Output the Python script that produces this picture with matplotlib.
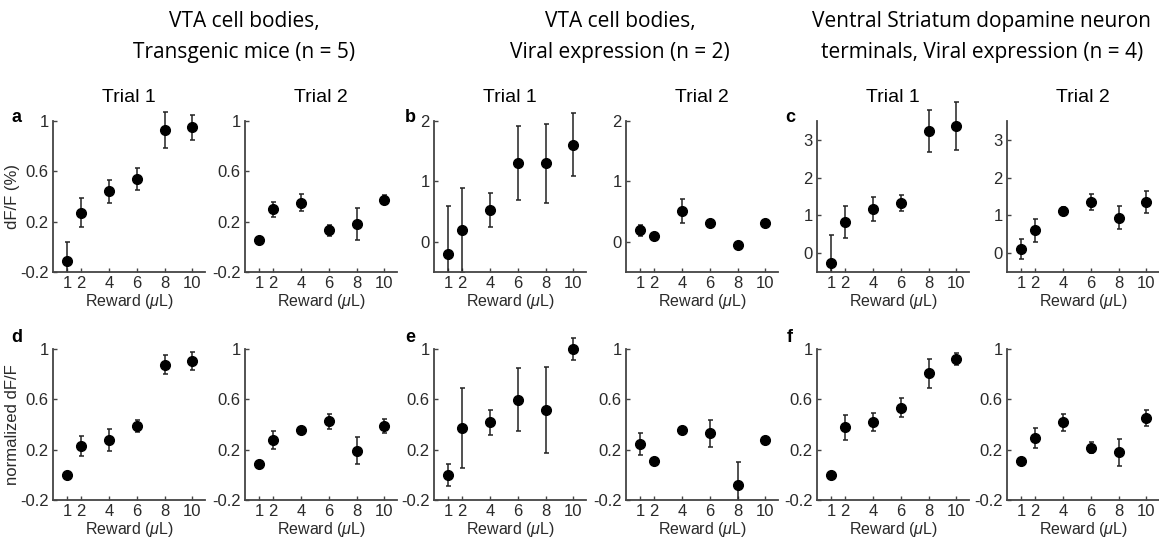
import matplotlib
matplotlib.use("Agg")
import matplotlib.pyplot as plt
from matplotlib.patches import Rectangle

plt.rcParams['font.family'] = ['Liberation Sans', 'DejaVu Sans']
plt.rcParams['mathtext.fontset'] = 'custom'
plt.rcParams['mathtext.it'] = 'Liberation Sans:italic'
plt.rcParams['mathtext.rm'] = 'Liberation Sans'

reward = [1, 2, 4, 6, 8, 10]

# top row: dF/F (%)
a1_mean = [-0.11, 0.27, 0.44, 0.54, 0.93, 0.95]
a1_err = [0.15, 0.115, 0.09, 0.09, 0.145, 0.10]
a2_mean = [0.055, 0.30, 0.35, 0.13, 0.18, 0.373]
a2_err = [0.02, 0.06, 0.066, 0.045, 0.125, 0.035]
b1_mean = [-0.20, 0.19, 0.53, 1.31, 1.30, 1.61]
b1_err = [0.80, 0.70, 0.28, 0.61, 0.65, 0.52]
b2_mean = [0.19, 0.10, 0.505, 0.31, -0.055, 0.31]
b2_err = [0.09, 0.0, 0.20, 0.0, 0.0, 0.0]
c1_mean = [-0.25, 0.83, 1.17, 1.32, 3.24, 3.36]
c1_err = [0.72, 0.43, 0.31, 0.21, 0.56, 0.64]
c2_mean = [0.11, 0.60, 1.11, 1.36, 0.94, 1.36]
c2_err = [0.26, 0.31, 0.11, 0.21, 0.31, 0.29]

# bottom row: normalized dF/F
d1_mean = [0.0, 0.226, 0.276, 0.387, 0.876, 0.907]
d1_err = [0.0, 0.08, 0.085, 0.045, 0.076, 0.07]
d2_mean = [0.083, 0.278, 0.36, 0.424, 0.191, 0.387]
d2_err = [0.03, 0.07, 0.02, 0.058, 0.106, 0.053]
e1_mean = [0.0, 0.373, 0.416, 0.596, 0.516, 1.0]
e1_err = [0.085, 0.317, 0.10, 0.25, 0.34, 0.085]
e2_mean = [0.244, 0.11, 0.358, 0.329, -0.084, 0.276]
e2_err = [0.085, 0.02, 0.0, 0.105, 0.185, 0.0]
f1_mean = [0.0, 0.378, 0.418, 0.535, 0.807, 0.918]
f1_err = [0.0, 0.10, 0.07, 0.074, 0.116, 0.048]
f2_mean = [0.111, 0.296, 0.418, 0.215, 0.178, 0.453]
f2_err = [0.01, 0.08, 0.066, 0.042, 0.108, 0.066]

group_titles = ['VTA cell bodies,\nTransgenic mice (n = 5)',
                'VTA cell bodies,\nViral expression (n = 2)',
                'Ventral Striatum dopamine neuron\nterminals, Viral expression (n = 4)']
panel_letters = ['a', 'b', 'c', 'd', 'e', 'f']

W, H = 1159, 542
fig = plt.figure(figsize=(W / 100, H / 100), dpi=100)

lefts = [53, 245, 434, 626, 817, 1007]
axw = 152
row_top = [121, 349]
axh = 151
spine_col = '#444444'
text_col = '#2a2a2a'

top_data = [(a1_mean, a1_err), (a2_mean, a2_err), (b1_mean, b1_err),
            (b2_mean, b2_err), (c1_mean, c1_err), (c2_mean, c2_err)]
bot_data = [(d1_mean, d1_err), (d2_mean, d2_err), (e1_mean, e1_err),
            (e2_mean, e2_err), (f1_mean, f1_err), (f2_mean, f2_err)]
top_ylims = [(-0.2, 1), (-0.2, 1), (-0.5, 2), (-0.5, 2), (-0.5, 3.5), (-0.5, 3.5)]
top_yticks = [[-0.2, 0.2, 0.6, 1], [-0.2, 0.2, 0.6, 1], [0, 1, 2], [0, 1, 2],
              [0, 1, 2, 3], [0, 1, 2, 3]]


def fmt_tick(v):
    if v == int(v):
        return str(int(v))
    return ('%.1f' % v)


def draw_panel(ax, mean, err, ylim, yticks):
    eb = ax.errorbar(reward, mean, yerr=err, fmt='o', color='black',
                     ms=7, ecolor='#222222', elinewidth=1.1, capsize=1.8,
                     capthick=1.1)
    # clip only at the bottom: error bars may run above the axis top
    clip = Rectangle((-0.05, 0), 1.1, 1.5, transform=ax.transAxes)
    for art in eb.get_children():
        art.set_clip_path(clip)
    ax.set_xlim(0, 10.9)
    ax.set_ylim(*ylim)
    ax.set_xticks(reward)
    ax.set_yticks(yticks)
    ax.set_yticklabels([fmt_tick(v) for v in yticks])
    for s in ['top', 'right']:
        ax.spines[s].set_visible(False)
    for s in ['left', 'bottom']:
        ax.spines[s].set_color(spine_col)
        ax.spines[s].set_linewidth(1.3)
    ax.tick_params(direction='in', length=3, width=1, color=spine_col,
                   labelsize=12, labelcolor=text_col, pad=3)
    ax.set_xlabel(r'Reward ($\mu$L)', fontsize=11.5, color=text_col,
                  labelpad=0.5)
    ax.patch.set_alpha(0)


axes = []
for r in range(2):
    for i in range(6):
        ax = fig.add_axes([lefts[i] / W, 1 - (row_top[r] + axh) / H,
                           axw / W, axh / H])
        if r == 0:
            mean, err = top_data[i]
            draw_panel(ax, mean, err, top_ylims[i], top_yticks[i])
            ax.set_title('Trial %d' % (i % 2 + 1), fontsize=14, pad=14)
        else:
            mean, err = bot_data[i]
            draw_panel(ax, mean, err, (-0.2, 1), [-0.2, 0.2, 0.6, 1])
        axes.append(ax)

axes[0].set_ylabel('dF/F (%)', fontsize=12, color=text_col, labelpad=0)
axes[6].set_ylabel('normalized dF/F', fontsize=12, color=text_col,
                   labelpad=0)

# panel letters
letter_x = [17, 410, 790]
letter_y = [118, 338]
for r in range(2):
    for g in range(3):
        fig.text(letter_x[g] / W, 1 - letter_y[r] / H,
                 panel_letters[r * 3 + g], fontsize=13, fontweight='bold',
                 ha='center', va='center')

# group titles
title_x = [244, 620, 982]
for g in range(3):
    fig.text(title_x[g] / W, 1 - 37 / H, group_titles[g],
             fontsize=15, family=['Open Sans', 'DejaVu Sans'],
             ha='center', va='center', linespacing=1.6)

fig.savefig('out.png', dpi=100)
